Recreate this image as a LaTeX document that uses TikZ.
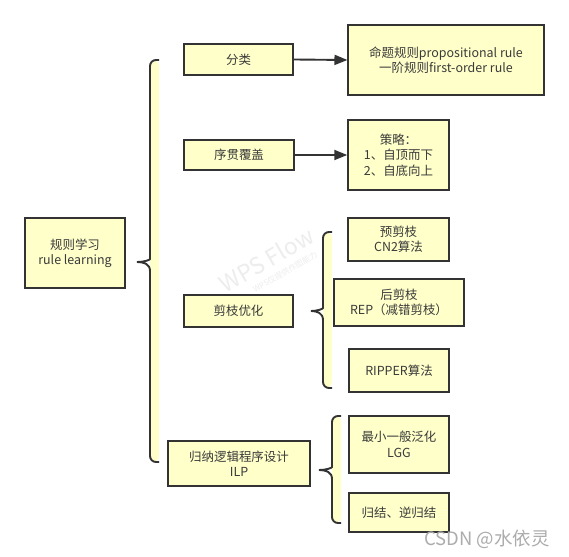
\documentclass[tikz,border=0pt]{standalone}
\usepackage{fontspec}
\setmainfont{Noto Sans CJK SC}
\usetikzlibrary{arrows.meta}
\definecolor{boxfill}{HTML}{FFFFCA}
\definecolor{edge}{HTML}{333333}
\definecolor{txt}{HTML}{3A3A3A}
\newcommand{\bracepath}[6]{% x, top, tipy, bottom, tipx, stripx
  \fill[boxfill, rounded corners=6] (#6,#2) -- (#1,#2) -- (#1,#4) -- (#6,#4) -- cycle;
  \draw[edge, line width=1.9, rounded corners=6] (#6,#2) -- (#1,#2) -- (#1,#3-9)
    [sharp corners] .. controls (#1,#3-2) and (#1-6,#3) .. (#5,#3)
    .. controls (#1-6,#3) and (#1,#3+2) .. (#1,#3+9)
    [rounded corners=6] -- (#1,#4) -- (#6,#4);
}
\tikzset{
  bx/.style={draw=edge, fill=boxfill, line width=1.9, text=txt, align=center,
    inner sep=0pt, font=\fontsize{12.5}{15.5}\selectfont},
  arr/.style={draw=edge, line width=1.9, -{Triangle[length=13,width=10]}},
}
\begin{document}
\begin{tikzpicture}[x=1bp, y=-1bp]
\useasboundingbox (0,0) rectangle (569,557);
\fill[white] (0,0) rectangle (569,557);
% watermark
\node[rotate=30, text=gray!14, align=center, font=\fontsize{23}{14}\selectfont] (wm) at (270,266)
  {WPS Flow\\{\fontsize{8}{8}\selectfont\hspace*{20bp}WPS仅提供作图能力}};
% braces
\bracepath{150}{60}{262}{462}{137}{159}
\bracepath{323}{232}{311}{388}{311}{332}
\bracepath{332}{416}{470}{523}{319}{341}
% nodes
\node[bx, minimum width=100, minimum height=70] (root) at (75,253) {规则学习\\rule learning};
\node[bx, minimum width=109, minimum height=31] (fenlei) at (238.5,59.5) {分类};
\node[bx, minimum width=196, minimum height=70] (mingti) at (446,60) {命题规则propositional rule\\一阶规则first-order rule};
\node[bx, minimum width=110, minimum height=30] (xuguan) at (239,155) {序贯覆盖};
\node[bx, minimum width=101, minimum height=70] (celue) at (398.5,155) {策略：\\1、自顶而下\\2、自底向上};
\node[bx, minimum width=109, minimum height=32] (jianzhi) at (238.5,311) {剪枝优化};
\node[bx, minimum width=101, minimum height=43] (yu) at (398.5,239.5) {预剪枝\\CN2算法};
\node[bx, minimum width=130, minimum height=47] (hou) at (399,302.5) {后剪枝\\REP（减错剪枝）};
\node[bx, minimum width=100, minimum height=43] (ripper) at (399,370.5) {RIPPER算法};
\node[bx, minimum width=142, minimum height=45] (guina) at (239,463.5) {归纳逻辑程序设计\\ILP};
\node[bx, minimum width=100, minimum height=57] (lgg) at (399,444.5) {最小一般泛化\\LGG};
\node[bx, minimum width=100, minimum height=39] (guijie) at (399,512.5) {归结、逆归结};
% arrows
\draw[arr] (fenlei.east) -- (mingti.west);
\draw[arr] (xuguan.east) -- (celue.west);
% csdn watermark
\node[text=gray!65, font=\fontsize{18.5}{18.5}\selectfont] (csdn) at (487,539) {CSDN @水依灵};
\end{tikzpicture}
\end{document}
